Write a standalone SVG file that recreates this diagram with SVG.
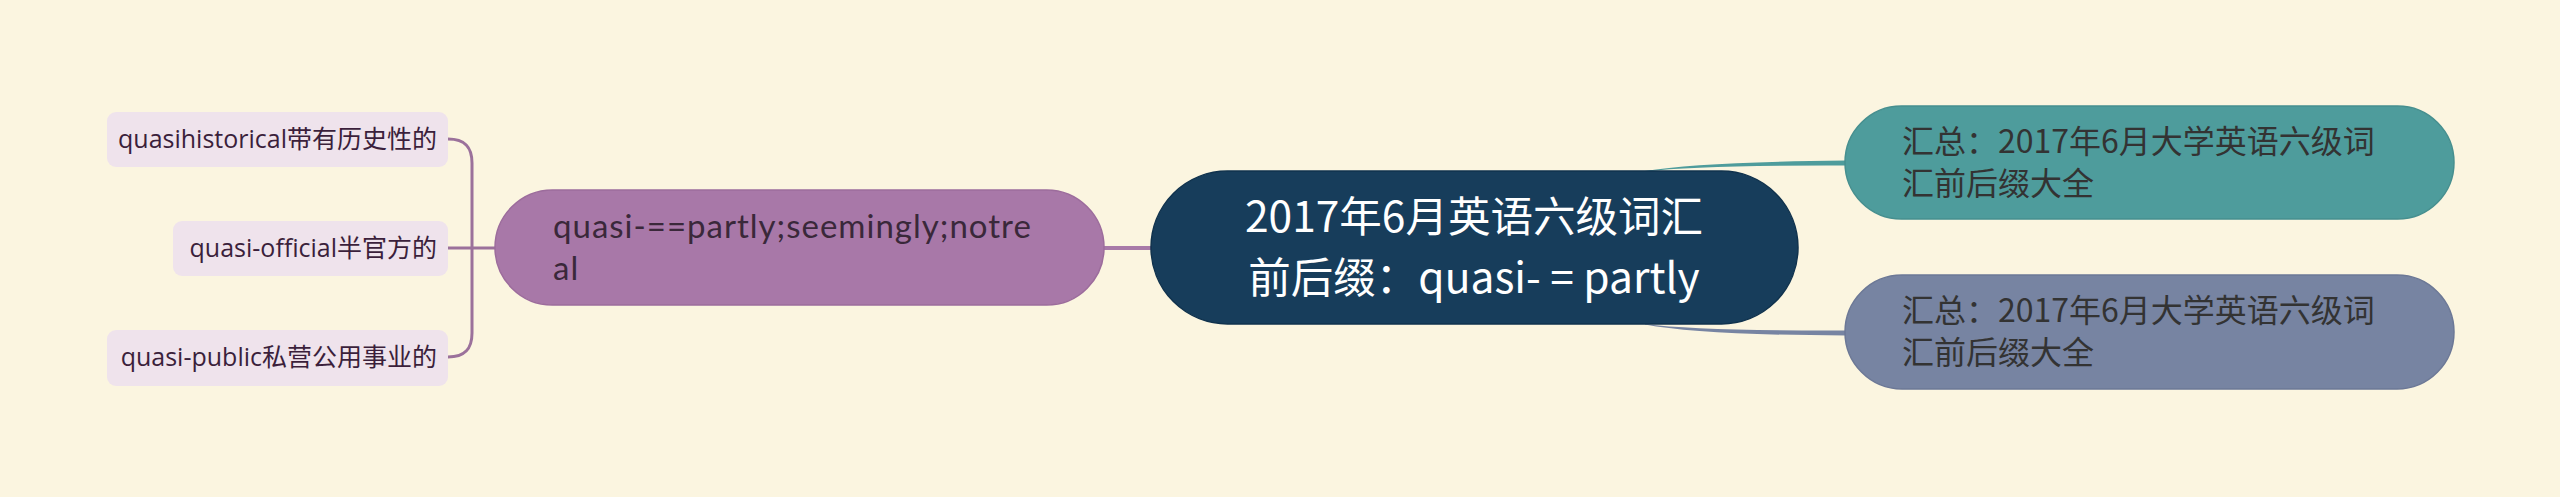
<svg xmlns="http://www.w3.org/2000/svg" width="2560" height="497" viewBox="0 0 2560 497">
<style>
.cjk{font-family:"Noto Sans CJK SC","Noto Sans",sans-serif}
.lat{font-family:"Open Sans","Noto Sans CJK SC",sans-serif}
.leaf rect{fill:#efe3ec}
.leaf text{font-size:25px;fill:#3b1f3b;text-anchor:end}
</style>
<rect width="2560" height="497" fill="#fbf5e0"/>
<g id="connectors">
<path d="M1104 248H1151" stroke="#a87aa8" stroke-width="4" fill="none"/>
<path d="M448 139C466 139 472 148 472 163V333C472 348 466 357 448 357M448 248H495" stroke="#9b719b" stroke-width="3" fill="none"/>
<path d="M1645 171Q1700 162 1846 160.5L1846 165.5Q1700 165 1645 171.5Z" fill="#4e9c9c"/>
<path d="M1645 324Q1700 331 1846 330.5L1846 335.5Q1700 335 1645 324.5Z" fill="#7784a2"/>
</g>
<g id="center">
<rect x="1151" y="171" width="647" height="153" rx="76.5" fill="#173d5b" stroke="#10324d" stroke-width="1.5"/>
<text class="cjk" font-size="42.5" fill="#ffffff" text-anchor="middle"><tspan x="1474" y="232">2017年6月英语六级词汇</tspan><tspan x="1474" y="293">前后缀：quasi- = partly</tspan></text>
</g>
<g id="summary1">
<rect x="1845" y="106" width="609" height="113" rx="56.5" fill="#4e9c9c" stroke="#468f8f" stroke-width="1.5"/>
<text class="cjk" font-size="32" fill="#333333"><tspan x="1902" y="153">汇总：2017年6月大学英语六级词</tspan><tspan x="1902" y="195">汇前后缀大全</tspan></text>
</g>
<g id="summary2">
<rect x="1845" y="275" width="609" height="114" rx="57" fill="#7784a2" stroke="#6c7896" stroke-width="1.5"/>
<text class="cjk" font-size="32" fill="#333333"><tspan x="1902" y="322">汇总：2017年6月大学英语六级词</tspan><tspan x="1902" y="364">汇前后缀大全</tspan></text>
</g>
<g id="quasi">
<rect x="495" y="190" width="609" height="115" rx="57.5" fill="#a878a8" stroke="#9c6c9c" stroke-width="1.5"/>
<text font-family="Lato, sans-serif" font-size="33" letter-spacing="1" fill="#3a283a"><tspan x="553" y="238">quasi-==partly;seemingly;notre</tspan><tspan x="553" y="280">al</tspan></text>
</g>
<g id="leaf1" class="leaf">
<rect x="107" y="112" width="341" height="55" rx="9"/>
<text class="lat" x="437" y="148">quasihistorical带有历史性的</text>
</g>
<g id="leaf2" class="leaf">
<rect x="173" y="221" width="275" height="55" rx="9"/>
<text class="lat" x="437" y="257">quasi-official半官方的</text>
</g>
<g id="leaf3" class="leaf">
<rect x="107" y="330" width="341" height="56" rx="9"/>
<text class="lat" x="437" y="366">quasi-public私营公用事业的</text>
</g>
</svg>
